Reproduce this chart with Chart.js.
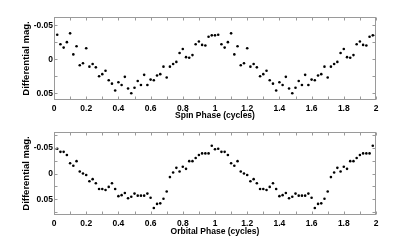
<!DOCTYPE html>
<html>
<head>
<meta charset="utf-8">
<script src="https://cdn.jsdelivr.net/npm/chart.js@4.4.1/dist/chart.umd.min.js"></script>
<style>
  html, body { margin: 0; padding: 0; background: #fff; }
  #wrap { position: relative; width: 415px; height: 242px; }
  canvas { position: absolute; left: 0; }
</style>
</head>
<body>
<div id="wrap">
  <canvas id="spinChart" width="415" height="121" style="top:0px"></canvas>
  <canvas id="orbChart" width="415" height="121" style="top:121px"></canvas>
</div>
<script>
// du lieu 1 chu ky pha (ve lap lai 2 chu ky)
const spinPhase = [0.02, 0.04, 0.06, 0.08, 0.10, 0.12, 0.14, 0.16, 0.18, 0.20,
  0.22, 0.24, 0.26, 0.28, 0.30, 0.32, 0.34, 0.36, 0.38, 0.40,
  0.42, 0.44, 0.46, 0.48, 0.50, 0.52, 0.54, 0.56, 0.58, 0.60,
  0.62, 0.64, 0.66, 0.68, 0.70, 0.72, 0.74, 0.76, 0.78, 0.80,
  0.82, 0.84, 0.86, 0.88, 0.90, 0.92, 0.94, 0.96, 0.98, 1.00];
const spinMag = [-0.036, -0.022, -0.017, -0.025, -0.038, -0.007, -0.019, 0.009, 0.006, -0.016,
  0.011, 0.007, 0.012, 0.025, 0.022, 0.017, 0.031, 0.036, 0.046, 0.034,
  0.038, 0.026, 0.043, 0.050, 0.042, 0.032, 0.038, 0.023, 0.038, 0.030,
  0.031, 0.024, 0.022, 0.011, 0.027, 0.011, 0.007, 0.004, -0.009, -0.015,
  -0.003, -0.002, -0.006, -0.022, -0.026, -0.021, -0.020, -0.033, -0.035, -0.035];

const orbPhase = [0.00, 0.02, 0.04, 0.06, 0.08, 0.10, 0.12, 0.14, 0.16, 0.18,
  0.20, 0.22, 0.24, 0.26, 0.28, 0.30, 0.32, 0.34, 0.36, 0.38,
  0.40, 0.42, 0.44, 0.46, 0.48, 0.50, 0.52, 0.54, 0.56, 0.58,
  0.60, 0.62, 0.64, 0.66, 0.68, 0.70, 0.72, 0.74, 0.76, 0.78,
  0.80, 0.82, 0.84, 0.86, 0.88, 0.90, 0.92, 0.94, 0.96, 0.98];
const orbMag = [-0.047, -0.048, -0.042, -0.042, -0.036, -0.020, -0.015, -0.024, -0.004, 0.000,
  0.003, 0.015, 0.011, 0.019, 0.030, 0.030, 0.032, 0.026, 0.019, 0.030,
  0.044, 0.042, 0.038, 0.048, 0.045, 0.039, 0.043, 0.043, 0.043, 0.039,
  0.047, 0.067, 0.059, 0.058, 0.049, 0.035, 0.007, -0.002, -0.011, -0.004,
  -0.013, -0.009, -0.024, -0.024, -0.030, -0.036, -0.039, -0.039, -0.039, -0.054];

const xTickLabels = [0, 0.2, 0.4, 0.6, 0.8, 1, 1.2, 1.4, 1.6, 1.8, 2];
const yTickLabels = [-0.05, 0, 0.05];
const nCycles = 2;

// lap du lieu cho 2 chu ky
function twoCycles(phase, mag) {
  const pts = [];
  for (let c = 0; c < nCycles; c++) {
    phase.forEach((p, i) => pts.push({ x: p + c, y: mag[i] }));
  }
  return pts;
}

const FONT = '"Liberation Sans", Arial, Helvetica, sans-serif';
const AXIS_GRAY = '#9a9a9a';

// plugin ve khung truc va vach chia huong vao trong (kieu matlab)
const matlabBox = {
  id: 'matlabBox',
  afterDraw(chart) {
    const { ctx, chartArea: a, scales: { x, y } } = chart;
    const L = Math.round(a.left) + 0.5, R = Math.round(a.right) - 0.5;
    const T = Math.round(a.top) + 0.5, B = Math.round(a.bottom) - 0.5;
    ctx.save();
    ctx.strokeStyle = AXIS_GRAY;
    ctx.lineWidth = 1;
    ctx.strokeRect(L, T, R - L, B - T);
    ctx.beginPath();
    for (let k = 0; k <= 20; k++) {
      const px = Math.round(x.getPixelForValue(k / 10)) + 0.5;
      ctx.moveTo(px, T); ctx.lineTo(px, T + 3);
      ctx.moveTo(px, B); ctx.lineTo(px, B - 3);
    }
    const step = 0.025;
    for (let v = -0.075; v <= 0.0751; v += step) {
      if (v < y.min - 1e-9 || v > y.max + 1e-9) continue;
      const py = Math.round(y.getPixelForValue(v)) + 0.5;
      ctx.moveTo(L, py); ctx.lineTo(L + 3, py);
      ctx.moveTo(R, py); ctx.lineTo(R - 3, py);
    }
    ctx.stroke();
    ctx.restore();
  }
};

function makeChart(id, data, xTitle, yMin, yMax, padTop, areaBottom, titlePadBottom) {
  const ctx = document.getElementById(id).getContext('2d');
  return new Chart(ctx, {
    type: 'scatter',
    data: {
      datasets: [{
        data: data,
        backgroundColor: '#000',
        borderWidth: 0,
        pointRadius: 1.3,
        pointHoverRadius: 1.3
      }]
    },
    options: {
      responsive: false,
      animation: false,
      devicePixelRatio: 1,
      layout: { padding: { left: 0, top: padTop, right: 39, bottom: 0 } },
      plugins: { legend: { display: false }, tooltip: { enabled: false } },
      scales: {
        x: {
          type: 'linear',
          min: 0,
          max: 2,
          afterBuildTicks: s => { s.ticks = xTickLabels.map(v => ({ value: v })); },
          afterFit: s => { s.height = 121 - areaBottom; },
          grid: { display: false, drawTicks: false },
          border: { display: false },
          ticks: {
            color: '#000',
            padding: 4,
            maxRotation: 0,
            autoSkip: false,
            font: { family: FONT, size: 8.5, weight: 'bold' },
            callback: v => String(+v.toFixed(1))
          },
          title: {
            display: true,
            text: xTitle,
            color: '#000',
            padding: { top: 0, bottom: titlePadBottom },
            font: { family: FONT, size: 8.5, weight: 'bold', lineHeight: 1.1 }
          }
        },
        y: {
          type: 'linear',
          reverse: true,
          min: yMin,
          max: yMax,
          afterBuildTicks: s => { s.ticks = yTickLabels.map(v => ({ value: v })); },
          afterFit: s => { s.width = 54; },
          grid: { display: false, drawTicks: false },
          border: { display: false },
          ticks: {
            color: '#000',
            padding: 1,
            font: { family: FONT, size: 8.5, weight: 'bold' },
            callback: v => (v === 0 ? '0' : String(+v.toFixed(2)))
          },
          title: {
            display: true,
            text: 'Differential mag.',
            color: '#000',
            padding: { top: 21, bottom: 0 },
            font: { family: FONT, size: 9.5, weight: 'bold', lineHeight: 1.1 }
          }
        }
      }
    },
    plugins: [matlabBox]
  });
}

makeChart('spinChart', twoCycles(spinPhase, spinMag), 'Spin Phase (cycles)', -0.062, 0.060, 17, 100, 1);
makeChart('orbChart', twoCycles(orbPhase, orbMag), 'Orbital Phase (cycles)', -0.08, 0.08, 11.3, 93.7, 6);
</script>
</body>
</html>
